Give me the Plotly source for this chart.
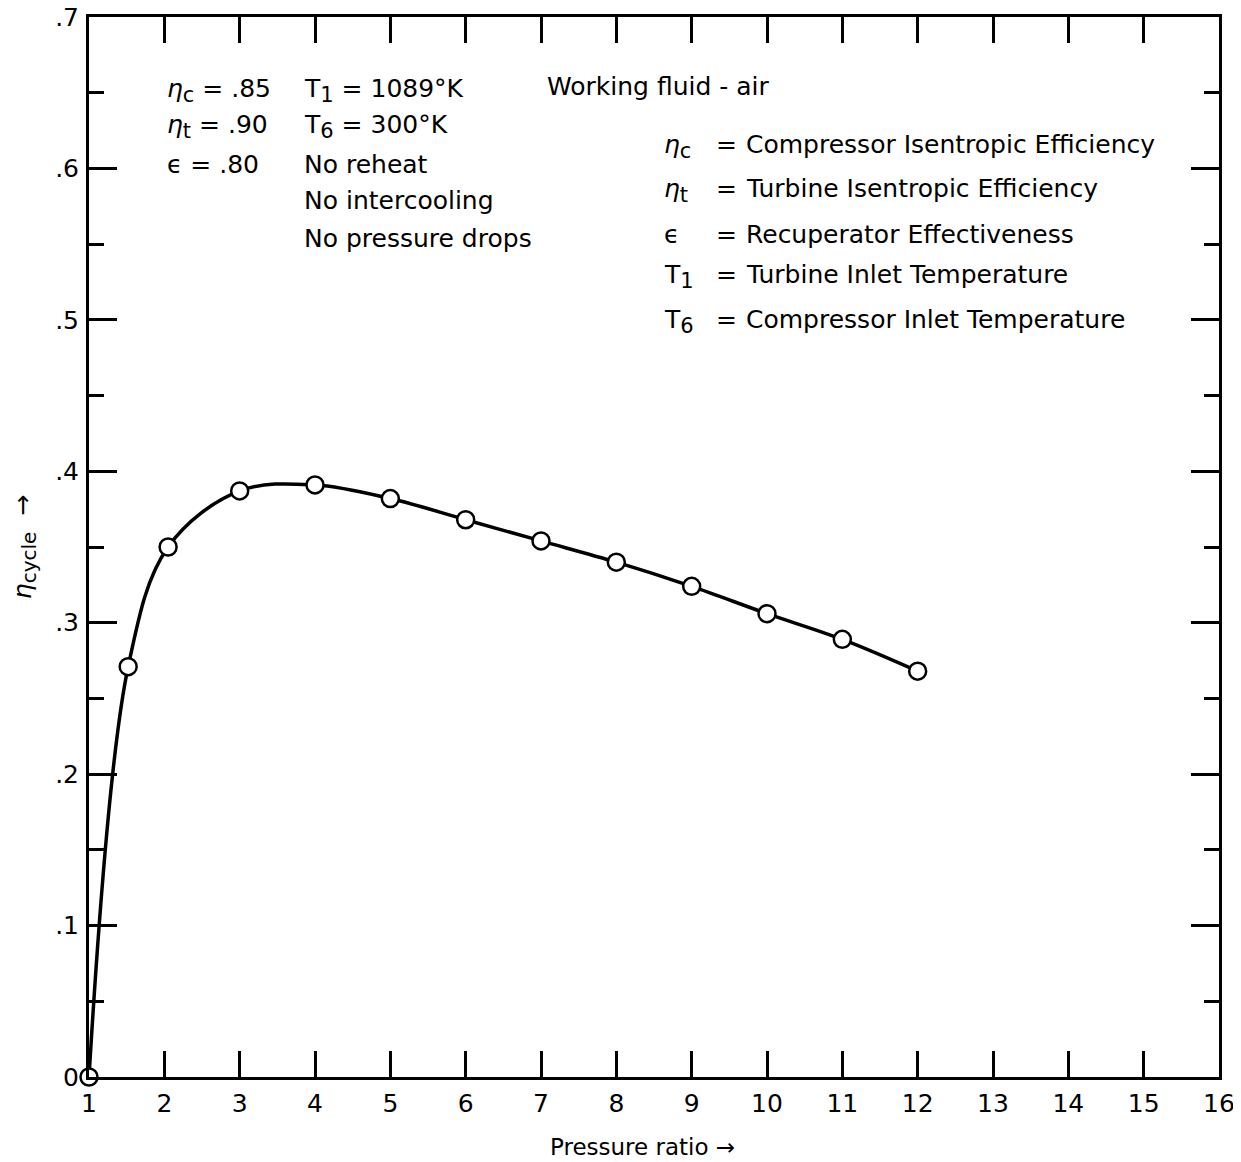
import plotly.graph_objects as go

# Data
pressure_ratio = [1.0, 1.52, 2.05, 3.0, 4.0, 5.0, 6.0, 7.0, 8.0, 9.0, 10.0, 11.0, 12.0]
eta_cycle = [0.0, 0.271, 0.350, 0.387, 0.391, 0.382, 0.368, 0.354, 0.340, 0.324, 0.306, 0.289, 0.268]

x_ticks = list(range(1, 17))
x_ticktext = [str(v) for v in x_ticks]
y_ticks = [0, 0.1, 0.2, 0.3, 0.4, 0.5, 0.6, 0.7]
y_ticktext = ["0", ".1", ".2", ".3", ".4", ".5", ".6", ".7"]

W, H = 1241, 1162
# target plot-area edges on screen
L, R, T, B = 87, 1217, 15, 1075
OFF = 6  # page offset of the figure inside the browser window
FONT = "DejaVu Sans, Liberation Sans, sans-serif"
FS = 25


def sub(s, size=21):
    return "<sub><span style='font-size:%dpx'>%s</span></sub>" % (size, s)


fig = go.Figure()
fig.add_trace(go.Scatter(
    x=pressure_ratio, y=eta_cycle, mode="lines",
    line=dict(color="black", width=3.5, shape="spline", smoothing=1.0),
    showlegend=False, hoverinfo="skip"))
fig.add_trace(go.Scatter(
    x=pressure_ratio, y=eta_cycle, mode="markers",
    marker=dict(symbol="circle", size=17, color="white",
                line=dict(color="black", width=2.5)),
    showlegend=False, cliponaxis=False))


def px2paper(px, py):
    return (px - L) / (R - L), (B - py) / (B - T)


ETA = "<i>η</i>"
texts = [
    (163, 88, ETA + sub("c") + " = .85"),
    (163, 125, ETA + sub("t") + " = .90"),
    (163, 162, "ϵ = .80"),
    (300, 88, "T" + sub("1") + " = 1089°K"),
    (300, 125, "T" + sub("6") + " = 300°K"),
    (300, 162, "No reheat"),
    (300, 199, "No intercooling"),
    (300, 237, "No pressure drops"),
    (543, 85, "Working fluid - air"),
    (660, 145, ETA + sub("c")),
    (660, 189, ETA + sub("t")),
    (660, 232, "ϵ"),
    (660, 274, "T" + sub("1")),
    (660, 319, "T" + sub("6")),
    (712, 143, "="),
    (712, 187, "="),
    (712, 232, "="),
    (712, 272, "="),
    (712, 317, "="),
    (742, 143, "Compressor Isentropic Efficiency"),
    (742, 187, "Turbine Isentropic Efficiency"),
    (742, 232, "Recuperator Effectiveness"),
    (742, 272, "Turbine Inlet Temperature"),
    (742, 317, "Compressor Inlet Temperature"),
]
for px, py, t in texts:
    ax, ay = px2paper(px, py)
    fig.add_annotation(x=ax, y=ay, xref="paper", yref="paper", text=t,
                       showarrow=False, xanchor="left", yanchor="middle",
                       font=dict(family=FONT, size=FS, color="black"))

# x-axis title as annotation for precise placement
tx, ty = px2paper(640, 1145)
fig.add_annotation(x=tx, y=ty, xref="paper", yref="paper", text="Pressure ratio →",
                   showarrow=False, xanchor="center", yanchor="middle",
                   font=dict(family=FONT, size=23, color="black"))

axis_common = dict(showgrid=False, zeroline=False, showline=True, linecolor="black",
                   linewidth=3, ticks="inside", tickcolor="black", tickwidth=2.5,
                   mirror="allticks", automargin=False, ticklabeloverflow="allow",
                   tickfont=dict(family=FONT, size=FS, color="black"))

fig.update_xaxes(range=[1, 16], tickmode="array", tickvals=x_ticks, ticktext=x_ticktext,
                 ticklen=26, ticklabelstandoff=2,
                 **axis_common)
fig.update_yaxes(range=[0, 0.7], tickmode="array", tickvals=y_ticks, ticktext=y_ticktext,
                 ticklen=28, ticklabelstandoff=2,
                 minor=dict(tickmode="linear", dtick=0.05, tick0=0, ticks="inside", ticklen=15,
                            tickwidth=2.5, tickcolor="black"),
                 title=dict(text=ETA + sub("cycle", 20) + "  →",
                            font=dict(family=FONT, size=25, color="black"),
                            standoff=26),
                 **axis_common)

fig.update_layout(width=W, height=H, plot_bgcolor="white", paper_bgcolor="white",
                  margin=dict(l=L - OFF, r=W - (R - OFF), t=T - OFF, b=H - (B - OFF)),
                  showlegend=False)

fig.write_html("out.html")
